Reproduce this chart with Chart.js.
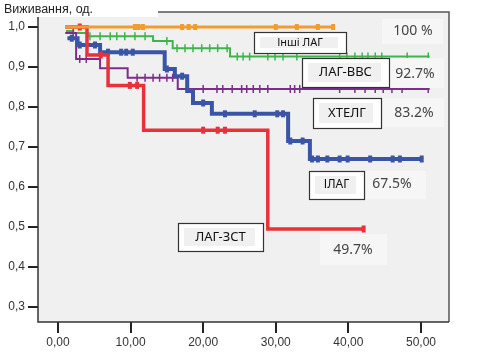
<!DOCTYPE html>
<html lang="uk">
<head>
    <meta charset="UTF-8">
    <title>Виживання</title>
    <style>
        html, body { margin: 0; padding: 0; background: #fff; }
        #wrap { width: 478px; height: 354px; }
    </style>
    <script src="https://cdn.jsdelivr.net/npm/chart.js"></script>
</head>
<body>
    <div id="wrap"><canvas id="kmChart" width="478" height="354"></canvas></div>

    <script>
        // step curves: time of each step and survival after it (last point = end of follow-up)
        const inshiTimes = [1.0, 38.0];
        const inshiSurv = [1.0, 1.0];
        const inshiCens = [10.6, 11.1, 11.7, 17.1, 18.0, 18.9, 30.0, 32.9, 35.8, 37.9];

        const vvsTimes = [1.1, 2.1, 4.1, 13.1, 15.8, 23.7, 51.2];
        const vvsSurv = [0.990, 0.985, 0.977, 0.965, 0.947, 0.926, 0.926];
        const vvsCens = [4.4, 5.8, 7.2, 8.1, 9.2, 10.6, 12.0, 15.0, 16.4, 17.5, 18.6, 19.8, 20.9, 22.0,
                         23.3, 24.7, 25.5, 26.4, 28.9, 29.9, 31.0, 32.9, 38.8, 39.8, 40.9, 41.9, 42.7,
                         43.7, 44.6, 48.1, 51.0];

        const htelgTimes = [1.0, 2.5, 5.8, 9.6, 16.5, 51.2];
        const htelgSurv = [0.985, 0.920, 0.897, 0.873, 0.845, 0.845];
        const htelgCens = [2.1, 3.0, 3.9, 6.9, 10.9, 12.0, 13.1, 14.0, 15.0, 15.8, 17.9, 20.0, 21.9,
                           22.7, 24.0, 25.3, 26.0, 26.9, 27.8, 28.9, 32.0, 32.6, 33.3, 38.8, 40.9,
                           42.3, 43.7, 44.8, 46.0, 47.4, 51.0];

        const ilagTimes = [1.3, 2.7, 5.8, 14.7, 16.1, 17.8, 18.6, 21.2, 31.7, 34.7, 50.1];
        const ilagSurv = [0.972, 0.955, 0.937, 0.895, 0.877, 0.840, 0.810, 0.783, 0.715, 0.670, 0.670];
        const ilagCens = [1.9, 3.0, 5.1, 6.9, 8.7, 9.4, 10.3, 15.0, 17.1, 20.0, 23.0, 27.1, 30.2, 31.0,
                          32.0, 33.7, 35.0, 35.8, 37.1, 38.8, 39.9, 43.0, 46.1, 47.1, 50.1];

        const zstTimes = [1.0, 4.0, 6.9, 11.8, 28.9, 42.1];
        const zstSurv = [1.0, 0.930, 0.854, 0.742, 0.495, 0.495];
        const zstCens = [3.0, 5.9, 9.9, 10.9, 20.0, 22.0, 23.0, 42.1];

        const xTicks = [0, 10, 20, 30, 40, 50];
        const yTicks = [0.3, 0.4, 0.5, 0.6, 0.7, 0.8, 0.9, 1.0];

        function stepPoints(times, surv) {
            return times.map((t, i) => ({ x: t, y: surv[i] }));
        }
        function censPoints(times, surv, cens) {
            return cens.map(c => {
                let v = surv[0];
                for (let i = 0; i < times.length; i++) if (times[i] <= c) v = surv[i];
                return { x: c, y: v };
            });
        }

        function curve(times, surv, color, width, order) {
            return {
                data: stepPoints(times, surv),
                borderColor: color,
                borderWidth: width,
                stepped: 'before',
                pointRadius: 0,
                fill: false,
                order: order
            };
        }
        function marks(times, surv, cens, color, width, radius, order) {
            return {
                data: censPoints(times, surv, cens),
                showLine: false,
                pointStyle: 'line',
                rotation: 90,
                pointRadius: radius,
                pointBorderWidth: width,
                borderColor: color,
                backgroundColor: color,
                order: order
            };
        }

        const orange = '#f39c2c', green = '#3db54a', purple = '#7d2e8c', blue = '#3b55a6', red = '#e8313b';

        const labelBoxes = [
            { text: 'Інші ЛАГ', x: 254, y: 32, w: 92, h: 21, size: 11 },
            { text: 'ЛАГ-ВВС', x: 302, y: 58, w: 87, h: 29, size: 13 },
            { text: 'ХТЕЛГ', x: 313, y: 98, w: 68, h: 30, size: 13 },
            { text: 'ІЛАГ', x: 309, y: 171, w: 55, h: 28, size: 12 },
            { text: 'ЛАГ-ЗСТ', x: 178, y: 223, w: 85, h: 28, size: 13 }
        ];
        const pctLabels = [
            { text: '100 %', x: 413, y: 31, bx: 382, by: 19, bw: 61, bh: 25 },
            { text: '92.7%', x: 415, y: 74, bx: 390, by: 58, bw: 54, bh: 30 },
            { text: '83.2%', x: 414, y: 113, bx: 383, by: 98, bw: 61, bh: 29 },
            { text: '67.5%', x: 392, y: 184, bx: 366, by: 171, bw: 60, bh: 28 },
            { text: '49.7%', x: 353, y: 250, bx: 320, by: 234, bw: 67, bh: 31 }
        ];

        const framePlugin = {
            id: 'frame',
            beforeDatasetsDraw(chart) {
                const { ctx, chartArea: a } = chart;
                ctx.save();
                ctx.fillStyle = '#f0f0f0';
                ctx.fillRect(a.left, a.top, a.right - a.left, a.bottom - a.top);
                // white patch under the axis title
                ctx.fillStyle = '#fff';
                ctx.fillRect(0, 0, 158, 17);
                ctx.strokeStyle = '#555';
                ctx.lineWidth = 1.5;
                ctx.beginPath();
                ctx.moveTo(158, a.top);
                ctx.lineTo(a.right, a.top);
                ctx.lineTo(a.right, a.bottom);
                ctx.stroke();
                ctx.strokeStyle = '#333';
                ctx.beginPath();
                ctx.moveTo(a.left, 17);
                ctx.lineTo(a.left, a.bottom);
                ctx.lineTo(a.right, a.bottom);
                ctx.stroke();
                ctx.fillStyle = '#222';
                ctx.font = '12.5px "Liberation Sans", Arial, sans-serif';
                ctx.textBaseline = 'middle';
                ctx.textAlign = 'left';
                ctx.fillText('Виживання, од.', 4, 10);
                ctx.restore();
            },
            afterDatasetsDraw(chart) {
                const ctx = chart.ctx;
                ctx.save();
                ctx.textBaseline = 'middle';
                ctx.textAlign = 'center';
                pctLabels.forEach(p => {
                    ctx.fillStyle = '#f6f6f6';
                    ctx.fillRect(p.bx, p.by, p.bw, p.bh);
                    ctx.fillStyle = '#444';
                    ctx.font = '14px "Noto Sans", sans-serif';
                    ctx.fillText(p.text, p.x, p.y);
                });
                labelBoxes.forEach(b => {
                    ctx.fillStyle = '#fff';
                    ctx.fillRect(b.x, b.y, b.w, b.h);
                    ctx.fillStyle = '#f0f0f0';
                    ctx.fillRect(b.x + 6, b.y + 5, b.w - 14, b.h - 10);
                    ctx.strokeStyle = '#333';
                    ctx.lineWidth = 1.2;
                    ctx.strokeRect(b.x + 0.5, b.y + 0.5, b.w, b.h);
                    ctx.fillStyle = '#111';
                    ctx.font = b.size + 'px "Noto Sans", sans-serif';
                    ctx.fillText(b.text, b.x + b.w / 2, b.y + b.h / 2);
                });
                ctx.restore();
            }
        };

        const ctx = document.getElementById('kmChart').getContext('2d');
        new Chart(ctx, {
            type: 'line',
            data: {
                datasets: [
                    marks(inshiTimes, inshiSurv, inshiCens, orange, 4, 3, 0),
                    curve(inshiTimes, inshiSurv, orange, 3, 1),
                    marks(zstTimes, zstSurv, zstCens, red, 4, 3.5, 2),
                    curve(zstTimes, zstSurv, red, 3.5, 3),
                    marks(ilagTimes, ilagSurv, ilagCens, blue, 4, 3.5, 4),
                    curve(ilagTimes, ilagSurv, blue, 4, 5),
                    marks(htelgTimes, htelgSurv, htelgCens, purple, 1.5, 4, 6),
                    curve(htelgTimes, htelgSurv, purple, 2, 7),
                    marks(vvsTimes, vvsSurv, vvsCens, green, 1.5, 4, 8),
                    curve(vvsTimes, vvsSurv, green, 2, 9)
                ]
            },
            options: {
                responsive: false,
                animation: false,
                layout: { padding: { top: 12, right: 29, left: 0, bottom: 0 } },
                plugins: { legend: { display: false }, tooltip: { enabled: false } },
                scales: {
                    x: {
                        type: 'linear',
                        min: -2.75,
                        max: 53.86,
                        afterBuildTicks: s => { s.ticks = xTicks.map(v => ({ value: v })); },
                        afterFit: s => { s.height = 32; },
                        border: { display: false },
                        grid: { drawOnChartArea: false, drawTicks: true, tickLength: 11, color: '#222', lineWidth: 2 },
                        ticks: {
                            padding: 2,
                            color: '#333',
                            font: { family: '"Liberation Sans", Arial, sans-serif', size: 12 },
                            callback: v => v.toFixed(2).replace('.', ',')
                        }
                    },
                    y: {
                        type: 'linear',
                        min: 0.2625,
                        max: 1.0375,
                        afterBuildTicks: s => { s.ticks = yTicks.map(v => ({ value: v })); },
                        afterFit: s => { s.width = 38; },
                        border: { display: false },
                        grid: { drawOnChartArea: false, drawTicks: true, tickLength: 10, color: '#222', lineWidth: 2 },
                        ticks: {
                            padding: 3,
                            color: '#333',
                            font: { family: '"Liberation Sans", Arial, sans-serif', size: 12 },
                            callback: v => v.toFixed(1).replace('.', ',')
                        }
                    }
                }
            },
            plugins: [framePlugin]
        });
    </script>
</body>
</html>
